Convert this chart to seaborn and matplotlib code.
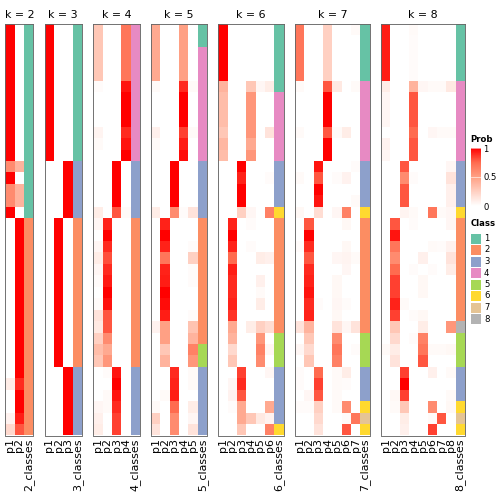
import numpy as np
import pandas as pd
import matplotlib
matplotlib.use("Agg")
import matplotlib.pyplot as plt
from matplotlib.colors import LinearSegmentedColormap, ListedColormap
from matplotlib.patches import Rectangle
import seaborn as sns

# membership probabilities, one list of rows per k (36 samples, sorted)
prob_k2 = (
    [[1, 0]] * 12
    + [[.6, .4], [1, 0], [.6, .4], [.6, .4], [1, 0]]
    + [[0, 1]] * 14
    + [[.1, .9], [0, 1], [0, 1], [.07, .93], [.2, .8]]
)
class_k2 = [1] * 17 + [2] * 19

prob_k3 = [[1, 0, 0]] * 12 + [[0, 0, 1]] * 5 + [[0, 1, 0]] * 13 + [[0, 0, 1]] * 6
class_k3 = [1] * 12 + [3] * 5 + [2] * 13 + [3] * 6

prob_k4 = [
    [.3, 0, 0, .7], [.3, 0, 0, .7], [.3, 0, 0, .7], [.3, 0, 0, .7], [.3, 0, 0, .7],
    [.02, 0, 0, .95], [0, 0, 0, 1], [0, 0, 0, 1], [0, 0, 0, 1], [.06, 0, 0, .9],
    [.03, 0, 0, .95], [0, 0, 0, 1],
    [0, 0, 1, 0], [0, 0, 1, 0], [0, 0, 1, 0], [0, 0, 1, 0], [.1, 0, .8, .03],
    [.05, .92, 0, 0], [0, 1, 0, 0], [.05, .9, 0, 0], [.1, .82, 0, 0], [.05, .9, 0, 0],
    [.02, .94, 0, 0], [0, 1, 0, 0], [.02, .96, 0, 0], [.15, .8, 0, 0], [.12, .8, 0, 0],
    [.25, .6, 0, 0], [.35, .45, 0, 0], [.3, .55, 0, 0],
    [0, .02, .95, 0], [0, 0, 1, 0], [0, .03, .95, 0], [.05, .03, .9, 0],
    [.08, 0, .85, 0], [.1, 0, .85, 0],
]
class_k4 = [4] * 12 + [3] * 5 + [2] * 13 + [3] * 6

prob_k5 = [
    [.45, 0, 0, .5, 0], [.45, 0, 0, .5, 0], [.45, 0, 0, .5, 0], [.45, 0, 0, .5, 0],
    [.45, 0, 0, .5, 0], [.03, 0, 0, .9, .03], [0, 0, 0, 1, 0], [0, 0, 0, 1, 0],
    [0, 0, 0, 1, 0], [.08, 0, 0, .85, .03], [.03, 0, 0, .93, 0], [0, 0, 0, .97, 0],
    [0, 0, 1, 0, 0], [0, 0, 1, 0, 0], [0, 0, 1, 0, 0], [0, 0, 1, 0, 0],
    [.1, 0, .6, .02, .15],
    [0, .92, 0, 0, 0], [0, 1, 0, 0, 0], [0, .92, 0, 0, .02], [0, .7, 0, 0, .25],
    [0, .92, 0, 0, .02], [0, .93, 0, 0, .02], [0, 1, 0, 0, 0], [0, .97, 0, 0, 0],
    [0, .93, 0, 0, .02], [.07, .5, 0, 0, .32], [0, .5, 0, 0, .4],
    [0, .3, 0, 0, .65], [0, .4, 0, 0, .55],
    [0, 0, .9, 0, .03], [0, 0, .92, 0, .03], [0, .03, .93, 0, 0],
    [.03, 0, .75, 0, .1], [.25, 0, .6, 0, .05], [.15, 0, .6, 0, .15],
]
class_k5 = [1] * 2 + [4] * 10 + [3] * 5 + [2] * 11 + [5] * 2 + [3] * 6

prob_k6 = [
    [1, 0, 0, 0, 0, 0], [1, 0, 0, 0, 0, 0], [1, 0, 0, 0, 0, 0], [1, 0, 0, 0, 0, 0],
    [1, 0, 0, 0, 0, 0], [.4, 0, 0, .3, .05, .1],
    [.35, 0, 0, .55, 0, 0], [.35, 0, 0, .55, 0, 0], [.35, 0, 0, .55, 0, 0],
    [.3, 0, 0, .55, 0, .15], [.38, 0, 0, .45, 0, 0], [.35, 0, 0, .55, 0, 0],
    [0, 0, 1, 0, 0, 0], [0, 0, .92, 0, 0, .02], [0, 0, 1, 0, 0, 0], [0, 0, 1, 0, 0, 0],
    [0, 0, .25, .05, 0, .65],
    [0, .92, 0, .02, 0, 0], [0, 1, 0, 0, 0, 0], [0, .92, 0, .02, 0, 0],
    [0, .75, 0, 0, .1, .08], [0, .93, 0, 0, 0, 0], [0, .9, 0, 0, .08, 0],
    [0, .9, 0, 0, .03, 0], [0, .92, 0, 0, .1, 0], [0, .88, 0, 0, 0, 0],
    [0, .45, 0, .1, .25, .18],
    [0, .4, 0, 0, .55, 0], [0, .2, 0, 0, .65, .05], [0, .3, 0, 0, .6, 0],
    [0, 0, .85, 0, 0, .05], [0, .05, .9, 0, 0, 0], [0, .07, .8, 0, 0, 0],
    [0, .02, .45, 0, 0, .45], [0, 0, .45, .3, .12, .07], [0, 0, .3, 0, 0, .65],
]
class_k6 = [1] * 6 + [4] * 6 + [3] * 4 + [6] + [2] * 10 + [5] * 3 + [3] * 5 + [6]

prob_k7 = [
    [.7, 0, 0, .25, 0, 0, .03], [.7, 0, 0, .25, 0, 0, 0], [.7, 0, 0, .25, 0, 0, 0],
    [.7, 0, 0, .25, 0, 0, 0], [.7, 0, 0, .25, 0, 0, 0],
    [.03, 0, 0, .8, .12, 0, .03], [0, 0, 0, 1, 0, 0, 0], [0, 0, 0, 1, 0, 0, 0],
    [0, 0, 0, 1, 0, 0, 0], [.03, 0, 0, .8, .03, .1, 0], [0, 0, 0, 1, 0, 0, 0],
    [0, 0, 0, 1, 0, 0, 0],
    [0, 0, .95, 0, 0, 0, .02], [.03, 0, .8, 0, .02, .07, 0], [0, 0, 1, 0, 0, 0, 0],
    [0, 0, .95, 0, 0, 0, .03], [.04, 0, .18, 0, .05, .65, 0],
    [0, .8, 0, 0, 0, .04, 0], [0, 1, 0, 0, 0, 0, 0], [.02, .9, 0, 0, 0, .04, 0],
    [0, .8, 0, 0, .05, .06, .03], [0, .9, 0, 0, 0, .05, 0], [0, .92, 0, 0, .04, 0, 0],
    [0, .95, 0, 0, .04, 0, 0], [0, .9, .02, 0, .05, .02, 0], [0, .92, 0, 0, .04, 0, 0],
    [.15, .4, 0, 0, .15, .05, .15],
    [0, .3, 0, 0, .6, 0, 0], [.05, .2, 0, 0, .7, 0, .02], [0, .3, 0, 0, .65, 0, 0],
    [.02, 0, .75, 0, .03, .1, 0], [.02, 0, .85, 0, .03, .02, 0], [0, .05, .8, 0, .03, 0, 0],
    [.02, .02, .25, 0, .03, .6, 0], [0, 0, .2, 0, 0, .03, .7], [0, 0, .15, 0, 0, .8, 0],
]
class_k7 = [1] * 5 + [4] * 7 + [3] * 4 + [6] + [2] * 10 + [5] * 3 + [3] * 3 + [6, 7, 6]

prob_k8 = [
    [.93, 0, 0, .03, 0, 0, 0, 0], [.93, 0, 0, .02, 0, 0, 0, 0], [.93, 0, 0, .02, 0, 0, 0, 0],
    [.93, 0, 0, .02, 0, 0, 0, 0], [.93, 0, 0, .02, 0, 0, 0, 0],
    [.1, 0, 0, .4, .05, .03, .03, .12], [.05, 0, 0, .8, 0, 0, 0, 0],
    [.05, 0, 0, .8, 0, 0, 0, 0], [.05, 0, 0, .8, 0, 0, 0, 0],
    [0, 0, 0, .75, 0, .05, .03, .03], [.07, 0, 0, .8, 0, 0, 0, 0], [.05, 0, 0, .8, 0, 0, 0, 0],
    [0, 0, .8, 0, 0, 0, 0, .05], [0, 0, .6, .02, 0, 0, 0, .15],
    [0, 0, .8, 0, 0, 0, 0, .08], [0, 0, .8, 0, 0, 0, 0, .08],
    [0, 0, .06, .03, 0, .7, .03, .05],
    [0, .8, 0, .02, 0, 0, 0, .05], [0, .95, 0, 0, 0, 0, 0, 0], [0, .7, 0, 0, 0, .03, .02, .07],
    [0, .6, 0, 0, .08, 0, 0, .15], [0, .75, 0, .02, 0, .02, 0, .1], [0, .85, 0, 0, .04, 0, 0, 0],
    [0, .85, 0, 0, .04, 0, 0, 0], [0, .92, .03, 0, 0, 0, 0, 0], [0, .85, 0, .02, .04, 0, 0, 0],
    [0, .3, 0, 0, .1, 0, 0, .55],
    [0, .2, 0, .02, .65, 0, 0, 0], [.03, .1, 0, 0, .7, .03, .03, .04], [0, .15, 0, 0, .8, 0, 0, 0],
    [0, 0, .85, 0, 0, .08, 0, .03], [0, 0, 1, 0, 0, 0, 0, 0], [0, .04, .85, 0, 0, 0, 0, .03],
    [0, .03, .3, 0, 0, .6, 0, .04], [0, 0, .1, 0, 0, .03, .8, 0], [0, 0, .08, 0, 0, .85, 0, 0],
]
class_k8 = [1] * 5 + [4] * 7 + [3] * 4 + [6] + [2] * 9 + [8] + [5] * 3 + [3] * 3 + [6, 7, 6]

panels = {
    2: (prob_k2, class_k2), 3: (prob_k3, class_k3), 4: (prob_k4, class_k4),
    5: (prob_k5, class_k5), 6: (prob_k6, class_k6), 7: (prob_k7, class_k7),
    8: (prob_k8, class_k8),
}
class_labels = ["1", "2", "3", "4", "5", "6", "7", "8"]
class_colors = ["#66C2A5", "#FC8D62", "#8DA0CB", "#E78AC3",
                "#A6D854", "#FFD92F", "#E5C494", "#B3B3B3"]

prob_cmap = LinearSegmentedColormap.from_list(
    "prob", ["#FFFFFF", "#FFD0C2", "#FFA084", "#FF6C50", "#FF0000"])
class_cmap = ListedColormap(class_colors)

W = H = 504
fig = plt.figure(figsize=(7, 7), dpi=72)
plt.rcParams["font.family"] = ["DejaVu Sans"]

cw, gap, x0 = 9.33, 11.3, 5.3
top, bottom = 23.7, 435.5
left = x0
for k, (prob, cls) in panels.items():
    width = (k + 1) * cw
    ax = fig.add_axes([left / W, 1 - bottom / H, width / W, (bottom - top) / H])
    left += width + gap

    cols = [f"p{i + 1}" for i in range(k)]
    df = pd.DataFrame(prob, columns=cols)
    df[f"{k}_classes"] = cls
    prob_vals = df.astype(float).copy()
    prob_vals[f"{k}_classes"] = np.nan
    class_vals = df.astype(float).copy()
    class_vals[cols] = np.nan

    sns.heatmap(prob_vals, cmap=prob_cmap, vmin=0, vmax=1, cbar=False, ax=ax,
                xticklabels=True, yticklabels=False)
    sns.heatmap(class_vals, cmap=class_cmap, vmin=0.5, vmax=8.5, cbar=False, ax=ax,
                xticklabels=True, yticklabels=False)
    ax.set_xticklabels(df.columns, rotation=90, fontsize=11)
    ax.tick_params(length=0, pad=3)
    ax.set_title(f"k = {k}", fontsize=11, pad=6)
    for s in ax.spines.values():
        s.set_visible(True)
        s.set_color("#666666")
        s.set_linewidth(0.9)

# Prob legend
fig.text(470.5 / W, 1 - 139 / H, "Prob", fontsize=8.5, fontweight="bold", va="center")
cax = fig.add_axes([470.5 / W, 1 - 206 / H, 10 / W, 58 / H])
sm = plt.cm.ScalarMappable(cmap=prob_cmap, norm=plt.Normalize(0, 1))
cb = fig.colorbar(sm, cax=cax, ticks=[0, 0.5, 1])
cb.outline.set_visible(False)
cb.ax.set_yticklabels(["0", "0.5", "1"])
cax.tick_params(length=0, labelsize=8.5, pad=3)
for t in [0.5, 1.0]:
    cax.axhline(t, color="white", lw=0.8, alpha=0.7)

# Class legend
lax = fig.add_axes([0, 0, 1, 1])
lax.set_xlim(0, W)
lax.set_ylim(H, 0)
lax.axis("off")
lax.text(470.5, 223.5, "Class", fontsize=8.5, fontweight="bold", va="center")
for i, (lab, col) in enumerate(zip(class_labels, class_colors)):
    y = 233.5 + 11.5 * i
    lax.add_patch(Rectangle((470.5, y), 10, 10, facecolor=col, edgecolor="none"))
    lax.text(484, y + 5, lab, fontsize=8.5, va="center")

fig.savefig("out.png", dpi=72)
